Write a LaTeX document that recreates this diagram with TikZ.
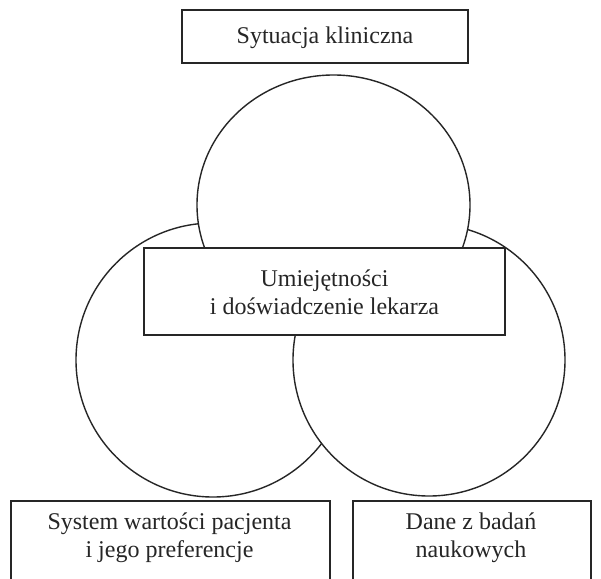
\documentclass[tikz,border=0pt]{standalone}
\usepackage{fontspec}
\setmainfont{Liberation Serif}
\usetikzlibrary{shapes.geometric}
\begin{document}
\begin{tikzpicture}[x=1bp,y=-1bp,
  ring/.style={draw=black!85,line width=1.4bp,fill=white,inner sep=0pt},
  box/.style={draw=black!85,line width=1.6bp,fill=white,rectangle,inner sep=0pt},
  lbl/.style={font=\fontsize{24bp}{28bp}\selectfont,align=center,inner sep=0pt,text=black!85}]
\clip (0,0) rectangle (601,579);
\fill[white] (0,0) rectangle (601,579);
% circles
\node[ring,circle,minimum size=274bp] (cl) at (213,360) {};
\node[ring,circle,minimum size=272bp] (cr) at (429,360) {};
\node[ring,ellipse,minimum width=273bp,minimum height=260bp] (ct) at (333.5,205) {};
% boxes
\node[box,minimum width=286bp,minimum height=53bp] (top) at (325,36.5) {};
\node[lbl] (toptext) at (325,38) {Sytuacja kliniczna};
\node[box,minimum width=361bp,minimum height=87bp] (mid) at (324.5,291.5) {};
\node[lbl] (midtext) at (324.5,292) {Umiejętności\\i doświadczenie lekarza};
\node[box,minimum width=319bp,minimum height=100bp,anchor=north west] (bl) at (10,500) {};
\node[lbl] (bltext) at (169.5,538) {System wartości pacjenta\\i jego preferencje};
\node[box,minimum width=238bp,minimum height=100bp,anchor=north west] (br) at (352,500) {};
\node[lbl] (brtext) at (471,538) {Dane z badań\\naukowych};
\end{tikzpicture}
\end{document}
